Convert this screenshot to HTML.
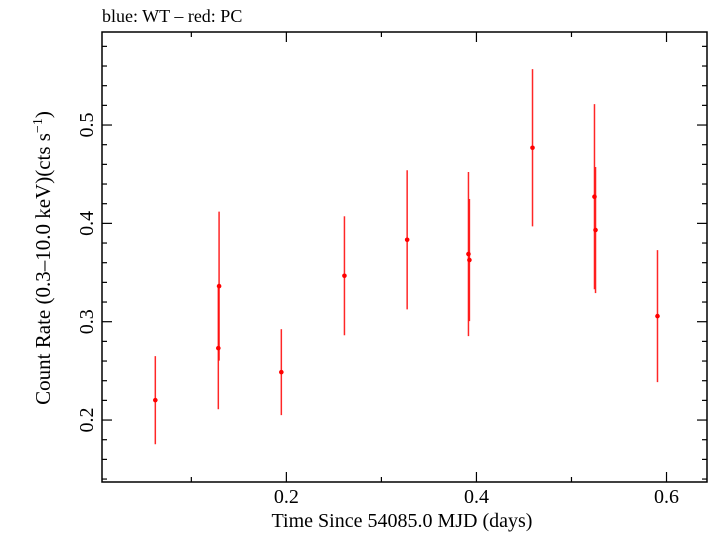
<!DOCTYPE html>
<html><head><meta charset="utf-8"><style>
html,body{margin:0;padding:0;background:#fff;}
svg text{font-family:"Liberation Serif",serif;fill:#000;}
</style></head><body>
<svg id="chart" width="709" height="532" xmlns="http://www.w3.org/2000/svg">
<text x="102" y="22" font-size="18">blue: WT – red: PC</text>
<rect x="102" y="32" width="605" height="450" fill="none" stroke="#000" stroke-width="1.5"/>
<g id="ticks"></g>
<g id="marks"></g>
<text x="402" y="527" font-size="20" text-anchor="middle">Time Since 54085.0 MJD (days)</text>
<text transform="translate(50,258) rotate(-90)" font-size="21" text-anchor="middle">Count Rate (0.3–10.0 keV)(cts s<tspan font-size="14" dy="-8">−1</tspan><tspan dy="8">)</tspan></text>
</svg>
<script>
const xValues = [0.0621, 0.1284, 0.1292, 0.1947, 0.2611, 0.3271, 0.3916, 0.3926, 0.459, 0.5242, 0.5253, 0.5905];
const yValues = [0.2202, 0.2731, 0.3362, 0.2487, 0.3467, 0.3833, 0.3688, 0.3627, 0.4769, 0.4271, 0.3932, 0.3057];
const yErrors = [0.0448, 0.0621, 0.0758, 0.0437, 0.0605, 0.0707, 0.0834, 0.0621, 0.0799, 0.0941, 0.0641, 0.0671];
const xTickLabels = ["0.2", "0.4", "0.6"];
const yTickLabels = ["0.2", "0.3", "0.4", "0.5"];

const X0=102, X1=707, Y0=32, Y1=482;
const xMin=0.0060, xMax=0.6426, yMin=0.137, yMax=0.5946;
function sx(v){return X0+(v-xMin)/(xMax-xMin)*(X1-X0);}
function sy(v){return Y1-(v-yMin)/(yMax-yMin)*(Y1-Y0);}
const NS="http://www.w3.org/2000/svg";
function mk(tag,attrs,parent){const e=document.createElementNS(NS,tag);for(const k in attrs)e.setAttribute(k,attrs[k]);parent.appendChild(e);return e;}
const tg=document.getElementById('ticks');
for(let i=1;i<=6;i++){
  const v=i/10, x=sx(v), major=(i%2===0), L=major?10:5;
  const t1=mk('line',{x1:x,x2:x,y1:Y1,y2:Y1-L,stroke:'#000','stroke-width':1.2},tg);
  
  
  const t2=mk('line',{x1:x,x2:x,y1:Y0,y2:Y0+L,stroke:'#000','stroke-width':1.2},tg);
  
  
}
xTickLabels.forEach(s=>{
  const t=mk('text',{x:sx(parseFloat(s)),y:503,'font-size':20,'text-anchor':'middle'},tg);
  t.textContent=s;
  
  
});
for(let i=7;i<=29;i++){
  const v=i/50, y=sy(v), major=(i%5===0), L=major?10:5;
  const t1=mk('line',{x1:X0,x2:X0+L,y1:y,y2:y,stroke:'#000','stroke-width':1.2},tg);
  
  
  const t2=mk('line',{x1:X1,x2:X1-L,y1:y,y2:y,stroke:'#000','stroke-width':1.2},tg);
  
  
}
yTickLabels.forEach(s=>{
  const y=sy(parseFloat(s));
  const t=mk('text',{transform:'translate(93,'+y+') rotate(-90)','font-size':20,'text-anchor':'middle'},tg);
  t.textContent=s;
  
  
});
const mg=document.getElementById('marks');
xValues.forEach((xv,i)=>{
  const x=sx(xv), y=sy(yValues[i]);
  const bar=mk('line',{x1:x,x2:x,y1:sy(yValues[i]+yErrors[i]),y2:sy(yValues[i]-yErrors[i]),stroke:'#f00','stroke-width':1.5,'stroke-opacity':0.85},mg);
  
  
  const pt=mk('circle',{cx:x,cy:y,r:2.3,fill:'#f00'},mg);
  
  
});
</script>
</body></html>
